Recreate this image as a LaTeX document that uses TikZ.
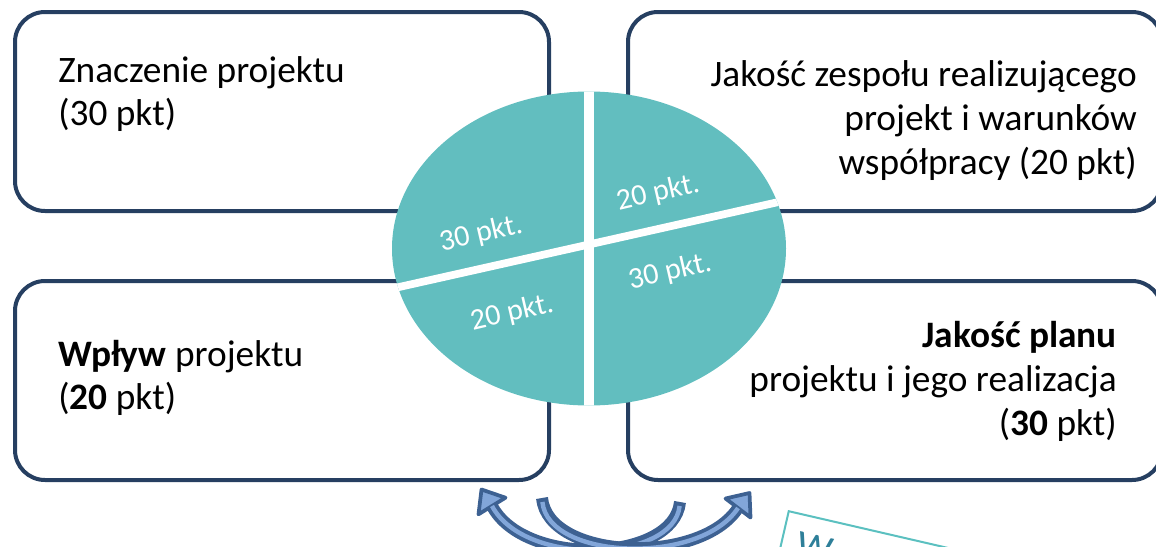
\documentclass[tikz,border=0pt]{standalone}
\usepackage{fontspec}
\setmainfont{Carlito}
\usetikzlibrary{calc}
\definecolor{navy}{HTML}{263F61}
\definecolor{pieteal}{HTML}{62BEBF}
\definecolor{arrowdark}{HTML}{3D6192}
\definecolor{arrowlight}{HTML}{82A6D9}
\definecolor{wteal}{HTML}{5BC0C0}
\definecolor{wtextcol}{HTML}{2E7F99}
\begin{document}
\begin{tikzpicture}[x=0.75pt, y=-0.75pt,
  box/.style={draw=navy, line width=3pt, rounded corners=22.5pt},
  txt/.style={inner sep=0pt, text=black, font=\fontsize{28pt}{33pt}\selectfont},
  pielabel/.style={inner sep=0pt, text=white, font=\fontsize{22.5pt}{26pt}\selectfont, rotate=13},
  bandout/.style={draw=arrowdark, line width=9pt, line cap=butt},
  bandin/.style={draw=arrowlight, line width=3.3pt, line cap=butt},
  headshape/.style={fill=arrowlight, draw=arrowdark, line width=2.8pt, line join=round}]
\useasboundingbox (0,0) rectangle (1156,546);
\clip (0,0) rectangle (1156,546);

% boxes
\coordinate (tlA) at (15,12);   \coordinate (tlB) at (549,211);
\coordinate (trA) at (628,12);  \coordinate (trB) at (1162,211);
\coordinate (blA) at (15,281);  \coordinate (blB) at (549,480);
\coordinate (brA) at (628,281); \coordinate (brB) at (1162,480);
\draw[box] (tlA) rectangle (tlB);
\draw[box] (trA) rectangle (trB);
\draw[box] (blA) rectangle (blB);
\draw[box] (brA) rectangle (brB);

% pie
\coordinate (pc) at (589,248.5);
\fill[pieteal] (pc) ellipse [x radius=147.75pt, y radius=117.75pt];
\begin{scope}
  \clip (pc) ellipse [x radius=147.75pt, y radius=117.75pt];
  \draw[white, line width=7.5pt] (589,80) -- (589,420);
  \draw[white, line width=5.8pt] (380,291.3) -- (800,197.2);
\end{scope}
\node[pielabel] (p1) at (481,234) {30 pkt.};
\node[pielabel] (p2) at (658,193) {20 pkt.};
\node[pielabel] (p3) at (670,272) {30 pkt.};
\node[pielabel] (p4) at (512,313) {20 pkt.};

% texts
\node[txt, anchor=base west] (tl1) at (58,82) {Znaczenie projektu};
\node[txt, anchor=base west] (tl2) at (58,125) {(30 pkt)};
\node[txt, anchor=base east] (tr1) at (1137,86) {Jakość zespołu realizującego};
\node[txt, anchor=base east] (tr2) at (1137,130) {projekt i warunków};
\node[txt, anchor=base east] (tr3) at (1137,174) {współpracy (20 pkt)};
\node[txt, anchor=base west] (bl1) at (58,366) {\textbf{Wpływ} projektu};
\node[txt, anchor=base west] (bl2) at (58,409) {(\textbf{20} pkt)};
\node[txt, anchor=base east] (br1) at (1117,347) {\textbf{Jakość planu}};
\node[txt, anchor=base east] (br2) at (1117,391) {projektu i jego realizacja};
\node[txt, anchor=base east] (br3) at (1117,435) {(\textbf{30} pkt)};

% curved arrows
\coordinate (ta) at (680,502);
\coordinate (ba) at (492,506);
\coordinate (tb) at (542,498);
\coordinate (bb) at (738,508);
\draw[bandout] (ta) .. controls (674,562) and (525,568) .. (ba);
\filldraw[headshape] (481.5,489.5) -- (505.5,497.7) -- (478.5,514.3) -- cycle;
\draw[bandin, shorten <=3pt] (ta) .. controls (674,562) and (525,568) .. (ba);
\draw[bandout] (tb) .. controls (548,560) and (700,566) .. (bb);
\filldraw[headshape] (749.5,493) -- (750.5,517.5) -- (725.5,498.5) -- cycle;
\draw[bandin, shorten <=3pt] (tb) .. controls (548,560) and (700,566) .. (bb);

% partial rotated box
\begin{scope}[shift={(788,510)}, rotate=-13, transform shape]
  \node[draw=wteal, line width=1.5pt, minimum width=240pt, minimum height=70pt, anchor=north west, inner sep=0pt] (wbox) at (0,0) {};
  \node[inner sep=0pt, anchor=north west, text=wtextcol, font=\fontsize{30pt}{36pt}\selectfont] (wtxt) at (17,18) {W};
\end{scope}
\end{tikzpicture}
\end{document}
